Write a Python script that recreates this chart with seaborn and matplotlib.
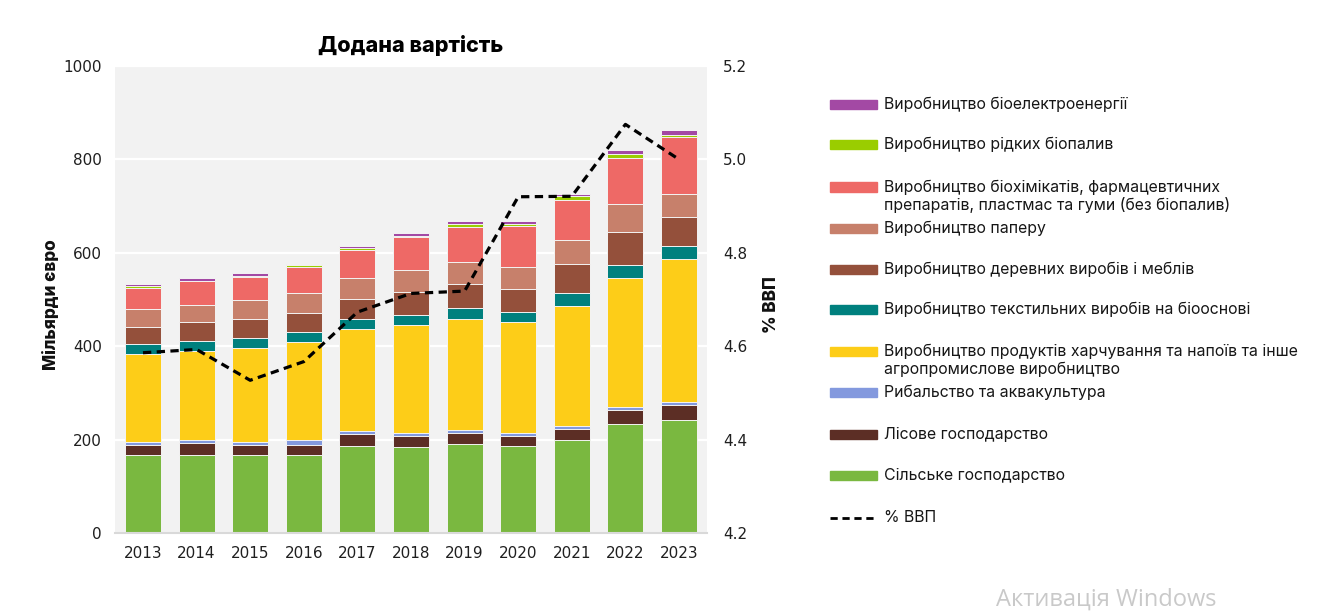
import numpy as np
import pandas as pd
import matplotlib
matplotlib.use("Agg")
import matplotlib.pyplot as plt
from matplotlib.patches import Rectangle
from matplotlib.lines import Line2D
import seaborn as sns

years = ["2013", "2014", "2015", "2016", "2017", "2018", "2019", "2020", "2021", "2022", "2023"]

agriculture = [168, 168, 168, 168, 186.6, 183.8, 190, 186.6, 199.4, 233.6, 243]
forestry = [21.5, 24, 21.5, 21.5, 25, 24.2, 24.4, 21.4, 24.3, 30.7, 30.5]
fishing = [5.5, 7, 5.5, 9.5, 6.5, 5.7, 5.6, 5.7, 5.6, 5.7, 7.1]
food = [188, 190, 201, 210, 218.6, 231.3, 238, 237.8, 257.2, 276, 305.4]
textile = [21.5, 23, 21, 21, 21.4, 21.5, 24, 21.5, 27.5, 27.4, 28]
wood = [37.5, 40, 42, 41.5, 43.4, 50.5, 51, 50.5, 62, 71.9, 62]
paper = [38, 37, 40, 42.5, 44.6, 47, 47.5, 47, 51.6, 59.2, 50]
biochem = [44, 50, 49.5, 56.5, 60.8, 69, 74, 87, 86.1, 99.5, 121]
liquid_biofuels = [4, 1.6, 2.5, 2.5, 4.2, 3.8, 6.5, 3.5, 7.1, 7, 4.5]
bioelectricity = [5.5, 5, 6.7, 4, 3.7, 5.2, 6.4, 6.4, 5.7, 9, 11.5]

gdp_share = [4.586, 4.593, 4.527, 4.567, 4.673, 4.713, 4.718, 4.920, 4.921, 5.075, 5.000]

series_labels = [
    "Сільське господарство",
    "Лісове господарство",
    "Рибальство та аквакультура",
    "Виробництво продуктів харчування та напоїв та інше\nагропромислове виробництво",
    "Виробництво текстильних виробів на біооснові",
    "Виробництво деревних виробів і меблів",
    "Виробництво паперу",
    "Виробництво біохімікатів, фармацевтичних\nпрепаратів, пластмас та гуми (без біопалив)",
    "Виробництво рідких біопалив",
    "Виробництво біоелектроенергії",
]
series_values = [agriculture, forestry, fishing, food, textile, wood, paper,
                 biochem, liquid_biofuels, bioelectricity]
series_colors = ["#7ab840", "#5c2e25", "#8399de", "#fdcd18", "#00807e",
                 "#94503b", "#c7806b", "#ee6966", "#9acd00", "#a349a4"]

line_label = "% ВВП"
title = "Додана вартість"
ylabel_left = "Мільярди євро"
ylabel_right = "% ВВП"

sns.set_style("white", rc={"axes.facecolor": "#f2f2f2"})
plt.rcParams["font.family"] = ["DejaVu Sans"]
UI = ["Inter", "DejaVu Sans"]

W, H = 1332, 611
fig = plt.figure(figsize=(W / 100, H / 100), dpi=100)
ax = fig.add_axes([115 / W, (H - 533) / H, 592 / W, 467 / H])

vals = np.array(series_values, dtype=float)
tops = np.cumsum(vals, axis=0)

# stacked bars: draw cumulative tops from highest to lowest
for i in range(len(series_values) - 1, -1, -1):
    df = pd.DataFrame({"year": years, "top": tops[i]})
    sns.barplot(data=df, x="year", y="top", color=series_colors[i], saturation=1,
                width=0.67, errorbar=None, edgecolor="#f4f4f4", linewidth=0.7,
                ax=ax, zorder=2)

ax.set_ylim(0, 1000)
ax.set_yticks(np.arange(0, 1001, 200))
ax.grid(axis="y", color="white", linewidth=1.6, zorder=0)
ax.grid(axis="x", visible=False)
ax.set_axisbelow(True)
for s in ["top", "left", "right"]:
    ax.spines[s].set_visible(False)
ax.spines["bottom"].set_color("#d9d9d9")
ax.spines["bottom"].set_linewidth(1.5)
ax.tick_params(axis="both", length=0, labelsize=11, colors="#1f1f1f")
ax.tick_params(axis="y", pad=9.5)
ax.tick_params(axis="x", pad=9)
ax.set_xlabel("")
ax.set_ylabel(ylabel_left, fontsize=12.3, fontweight="heavy", color="#111111",
              family=UI)
ax.yaxis.set_label_coords(-0.093, 0.488)

ax2 = ax.twinx()
sns.lineplot(x=np.arange(len(years)), y=gdp_share, ax=ax2, color="black",
             linewidth=2.3, zorder=5)
for ln in ax2.lines:
    ln.set_dashes([2.6, 1.7])
ax2.set_ylim(4.2, 5.2)
ax2.set_yticks(np.round(np.arange(4.2, 5.21, 0.2), 1))
ax2.set_yticklabels([f"{v:.1f}" for v in np.arange(4.2, 5.21, 0.2)])
ax2.grid(False)
for s in ax2.spines.values():
    s.set_visible(False)
ax2.tick_params(axis="y", length=0, labelsize=11, colors="#1f1f1f", pad=11.5)
ax2.set_ylabel(ylabel_right, fontsize=12.3, fontweight="heavy", color="#111111",
               family=UI)
ax2.yaxis.set_label_coords(1.094, 0.488)

ax.set_xlim(-0.522, len(years) - 1 + 0.522)
ax.set_title(title, fontsize=15.5, fontweight="heavy", pad=10, color="#000000",
             family=UI)


def fx(px):
    return px / W


def fy(py):
    return (H - py) / H


# legend (top to bottom)
legend_y = [104, 144.5, 187, 228.5, 269.5, 309.5, 351.7, 392.8, 434.5, 475.7]
order = list(range(len(series_values) - 1, -1, -1))
for yy, i in zip(legend_y, order):
    fig.patches.append(Rectangle((fx(830), fy(yy + 4.5)), fx(877) - fx(830), 9 / H,
                                 transform=fig.transFigure, color=series_colors[i]))
    lines = series_labels[i].split("\n")
    for k, t in enumerate(lines):
        fig.text(fx(884), fy(yy + k * 17.7), t, fontsize=11.4, va="center",
                 ha="left", color="#161616", family=UI)
fig.lines.append(Line2D([fx(830), fx(875)], [fy(517.7), fy(517.7)],
                        transform=fig.transFigure, color="black", linewidth=2.0,
                        dashes=[2.6, 1.7]))
fig.text(fx(884), fy(517.7), line_label, fontsize=11.4, va="center", ha="left",
         color="#161616", family=UI)

fig.text(fx(996), fy(600), "Активація Windows", fontsize=17, va="center", ha="left",
         color="#c9c9c9", family=["Open Sans", "DejaVu Sans"])

fig.savefig("out.png", dpi=100)
